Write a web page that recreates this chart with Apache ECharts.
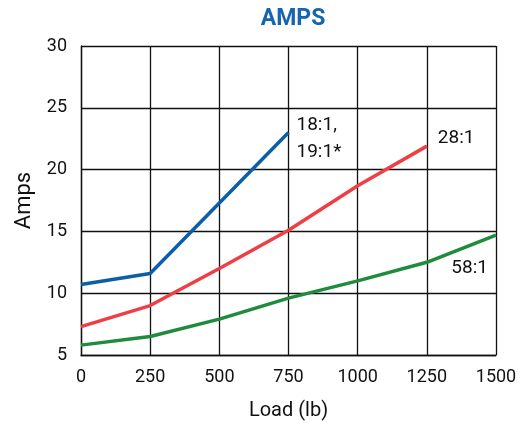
<!DOCTYPE html>
<html>
<head>
<meta charset="utf-8">
<script src="https://cdn.jsdelivr.net/npm/echarts@6/dist/echarts.min.js"></script>
<style>
    html, body { margin: 0; padding: 0; background: #fff; }
    #chart { width: 523px; height: 424px; }
</style>
</head>
<body>
<div id="chart"></div>
<script>
    // 数据
    var loads = [0, 250, 500, 750, 1000, 1250, 1500];
    var amps18 = [10.7, 11.6, 17.3, 23.0];
    var amps28 = [7.3, 9.0, 12.0, 15.1, 18.7, 21.9];
    var amps58 = [5.8, 6.5, 7.9, 9.6, 11.0, 12.5, 14.7];
    var seriesNames = ['18:1,\n19:1*', '28:1', '58:1'];

    function pairs(vals) {
        return vals.map(function (v, i) { return [loads[i], v]; });
    }

    var font = 'Roboto, "Liberation Sans", sans-serif';
    var myChart = echarts.init(document.getElementById('chart'));

    function lineSeries(name, vals, color, label) {
        return {
            name: name,
            type: 'line',
            data: pairs(vals),
            symbol: 'none',
            lineStyle: { color: color, width: 3.5 },
            endLabel: Object.assign({
                show: true,
                formatter: name,
                color: '#111',
                fontSize: 19,
                fontFamily: font,
                lineHeight: 27
            }, label)
        };
    }

    var option = {
        animation: false,
        title: {
            text: 'AMPS',
            left: 288,
            textAlign: 'center',
            top: 3,
            textStyle: { color: '#1565b0', fontSize: 23, fontWeight: 'bold', fontFamily: font }
        },
        grid: { left: 81, right: 27, top: 46, bottom: 69, outerBoundsMode: 'none' },
        xAxis: {
            type: 'value',
            min: 0,
            max: 1500,
            interval: 250,
            name: 'Load (lb)',
            nameLocation: 'middle',
            nameGap: 46,
            nameTextStyle: { color: '#111', fontSize: 20, fontFamily: font },
            axisLine: { lineStyle: { color: '#111', width: 1.3 } },
            axisTick: { show: false },
            axisLabel: {
                color: '#111', fontSize: 18, fontFamily: font, margin: 13,
                formatter: function (v) { return String(v); }
            },
            splitLine: { lineStyle: { color: '#111', width: 1.3 } }
        },
        yAxis: {
            type: 'value',
            min: 5,
            max: 30,
            interval: 5,
            name: 'Amps',
            nameLocation: 'middle',
            nameGap: 46,
            nameTextStyle: { color: '#111', fontSize: 22, fontFamily: font },
            axisLine: { show: true, lineStyle: { color: '#111', width: 1.3 } },
            axisTick: { show: false },
            axisLabel: { color: '#111', fontSize: 18, fontFamily: font, margin: 14 },
            splitLine: { lineStyle: { color: '#111', width: 1.3 } }
        },
        series: [
            lineSeries(seriesNames[0], amps18, '#0b5fa9', { distance: 8, offset: [0, 6], align: 'left' }),
            lineSeries(seriesNames[1], amps28, '#ee3f46', { distance: 11, offset: [0, -8], align: 'left' }),
            lineSeries(seriesNames[2], amps58, '#1f8b3c', { distance: 0, offset: [-8, 33], align: 'right' })
        ]
    };
    myChart.setOption(option);
</script>
</body>
</html>
